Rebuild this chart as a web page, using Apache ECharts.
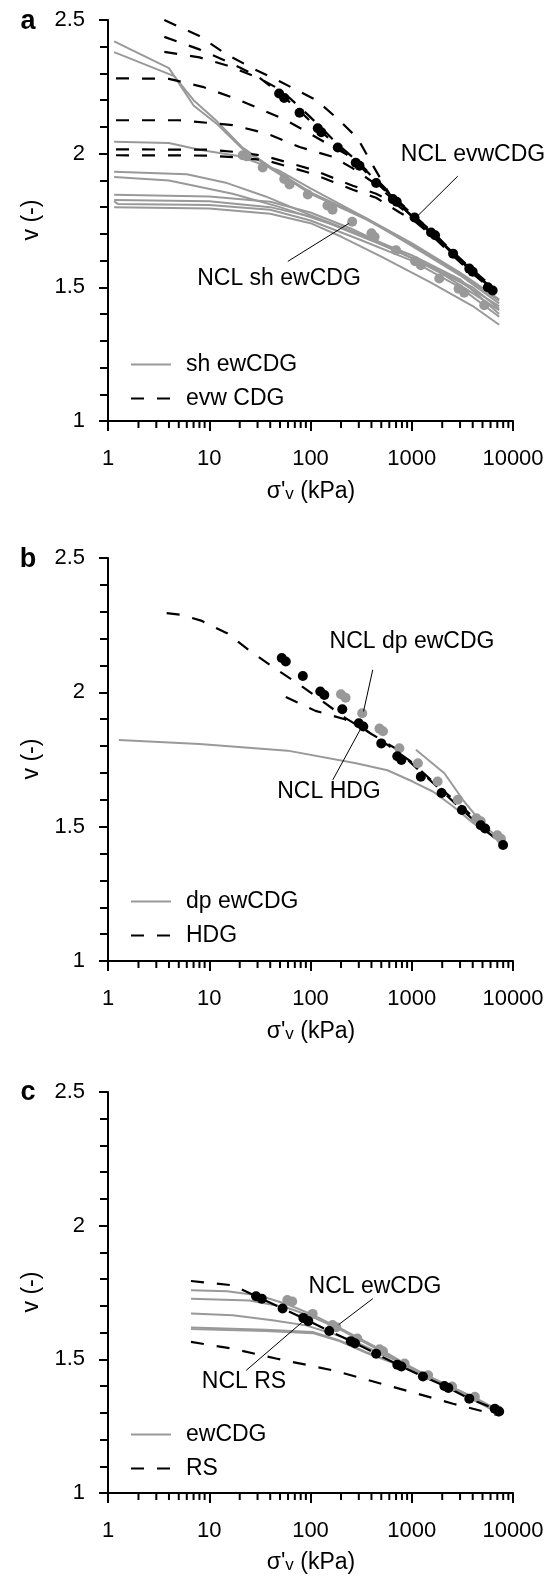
<!DOCTYPE html>
<html><head><meta charset="utf-8">
<script src="https://cdn.jsdelivr.net/npm/echarts@6/dist/echarts.min.js"></script>
<style>html,body{margin:0;padding:0;background:#fff}#c{width:555px;height:1578px}</style>
</head><body><div id="c"></div><script>
// ---------- data (sigma'v in kPa, v) ----------
const xMinorTicks = [2,3,4,5,6,7,8,9,20,30,40,50,60,70,80,90,200,300,400,500,600,700,800,900,2000,3000,4000,5000,6000,7000,8000,9000];

// panel a: sh ewCDG (grey solid) and evw CDG (black dashed)
const aShLines = [
 [[1.15,2.42],[4,2.32],[7,2.18],[12,2.11],[21,2.02],[42,1.94],[100,1.85],[350,1.755],[1000,1.66],[3000,1.55],[7300,1.45]],
 [[1.15,2.38],[4.5,2.29],[7,2.2],[12,2.12],[21,2.025],[42,1.945],[100,1.855],[350,1.76],[1000,1.665],[3000,1.555],[7300,1.455]],
 [[1.15,2.045],[4,2.04],[8,2.015],[20,1.99],[50,1.935],[100,1.87],[350,1.76],[1000,1.655],[3000,1.545],[7300,1.44]],
 [[1.15,1.932],[6,1.923],[15,1.89],[36,1.84],[100,1.77],[300,1.70],[1000,1.61],[3000,1.52],[7300,1.43]],
 [[1.15,1.913],[4,1.90],[17,1.85],[50,1.80],[150,1.74],[500,1.66],[1500,1.58],[4000,1.50],[7300,1.42]],
 [[1.15,1.846],[10,1.84],[40,1.82],[100,1.78],[250,1.72],[700,1.64],[2000,1.55],[7300,1.415]],
 [[1.15,1.827],[10,1.822],[40,1.80],[100,1.765],[300,1.70],[1000,1.62],[3000,1.53],[7300,1.40]],
 [[1.15,1.822],[1.25,1.812],[10,1.808],[40,1.79],[100,1.75],[300,1.68],[1000,1.60],[3000,1.50],[7300,1.39]],
 [[1.15,1.80],[10,1.795],[40,1.775],[100,1.74],[200,1.69],[500,1.615],[1500,1.52],[4000,1.43],[7300,1.36]]
];
const aEvwLines = [
 [[3.6,2.5],[8,2.44],[15,2.37],[30,2.31],[50,2.27],[114,2.2],[186,2.13],[293,2.057],[400,1.965],[600,1.85],[1000,1.765],[1700,1.69],[2560,1.63],[4000,1.56],[6500,1.49]],
 [[3.6,2.437],[8,2.39],[15,2.345],[30,2.29],[50,2.225],[78,2.16],[122,2.09],[186,2.025],[293,1.962],[445,1.892],[680,1.828],[1065,1.762],[1620,1.70],[2560,1.628],[3860,1.566],[6500,1.492]],
 [[3.6,2.381],[8,2.36],[15,2.33],[30,2.285],[50,2.24],[78,2.175],[122,2.105],[186,2.035],[293,1.97],[445,1.898],[680,1.832],[1065,1.766],[1620,1.705],[2560,1.632],[3860,1.57],[6500,1.497]],
 [[1.2,2.282],[4,2.28],[8.6,2.25],[17,2.21],[31,2.169],[57.5,2.125],[105,2.069],[166,2.025],[262,1.985],[445,1.905],[680,1.835],[1065,1.768],[1620,1.703],[2560,1.63],[3860,1.567],[6500,1.494]],
 [[1.2,2.125],[5,2.125],[17,2.107],[36.5,2.076],[78,2.025],[166,1.988],[262,1.945],[445,1.885],[680,1.822],[1065,1.76],[1620,1.698],[2560,1.624],[3860,1.562],[6500,1.488]],
 [[1.2,2.016],[10,2.015],[20,2.005],[36.5,1.99],[62,1.965],[105,1.94],[262,1.88],[445,1.85],[680,1.815],[1065,1.757],[1620,1.695],[2560,1.622],[3860,1.56],[6500,1.486]],
 [[1.2,1.994],[10,1.993],[20,1.985],[36.5,1.975],[62,1.95],[105,1.925],[262,1.865],[445,1.835],[760,1.78],[1065,1.748],[1620,1.69],[2560,1.618],[3860,1.556],[6500,1.484]]
];
const aShNCL = [[21.4,1.994],[23.5,1.99],[33.7,1.948],[55,1.905],[62,1.885],[94,1.847],[147,1.806],[165,1.79],[258,1.745],[400,1.702],[430,1.688],[700,1.639],[1080,1.598],[1230,1.583],[1870,1.533],[2900,1.495],[3300,1.48],[5200,1.433]];
const aEvwNCL = [[49,2.225],[55,2.208],[78,2.153],[118,2.095],[128,2.08],[186,2.023],[280,1.966],[305,1.955],[445,1.89],[650,1.83],[710,1.82],[1065,1.761],[1550,1.705],[1700,1.695],[2560,1.626],[3700,1.57],[4000,1.558],[5650,1.50],[6300,1.488]];

// panel b: dp ewCDG (grey solid) and HDG (black dashed)
const bDpLines = [
 [[1.28,1.823],[8,1.808],[59.5,1.783],[282,1.736],[575,1.71],[1020,1.668],[1630,1.63],[2570,1.575],[4000,1.515],[7200,1.45]],
 [[1100,1.786],[2100,1.699],[3200,1.60],[5000,1.51],[7500,1.45]]
];
const bHdgLines = [
 [[3.8,2.295],[5.2,2.289],[8.3,2.267],[15,2.22],[25,2.155],[43,2.093],[77,2.03],[128,1.97],[220,1.905],[400,1.845],[700,1.79],[1100,1.72],[1770,1.65],[3000,1.57],[5000,1.495],[7900,1.435]],
 [[57,1.983],[112,1.931],[218,1.90],[350,1.86],[600,1.80],[1000,1.74],[1700,1.66],[3000,1.58],[5000,1.505],[7900,1.44]]
];
const bDpNCL = [[200,1.993],[222,1.98],[324,1.922],[480,1.865],[520,1.855],[755,1.792],[1150,1.736],[1800,1.668],[2850,1.60],[4350,1.531],[4800,1.52],[7000,1.468],[7600,1.455]];
const bHdgNCL = [[52,2.128],[57,2.115],[84,2.061],[125,2.003],[137,1.99],[206,1.937],[300,1.885],[332,1.873],[500,1.81],[720,1.762],[790,1.748],[1230,1.686],[1970,1.625],[3130,1.562],[4800,1.505],[5300,1.493],[7980,1.432]];

// panel c: ewCDG (grey solid) and RS (black dashed)
const cEwLines = [
 [[6.6,1.758],[15,1.755],[31,1.739],[57,1.708],[100,1.67],[200,1.615],[500,1.535],[1000,1.47],[2000,1.41],[4000,1.36],[7200,1.31]],
 [[6.6,1.727],[25,1.72],[57,1.695],[100,1.662],[200,1.61],[500,1.53],[1000,1.465],[2000,1.405],[4000,1.355],[7200,1.305]],
 [[6.6,1.671],[17,1.665],[42,1.646],[90,1.627],[166,1.596],[300,1.56],[700,1.495],[1500,1.435],[3500,1.37],[7200,1.30]],
 [[6.6,1.619],[36,1.611],[105,1.602],[193,1.571],[355,1.527],[700,1.485],[1500,1.43],[3500,1.365],[7200,1.30]],
 [[6.6,1.613],[36,1.606],[105,1.598],[193,1.568],[355,1.524],[700,1.482],[1500,1.428],[3500,1.363],[7200,1.298]]
];
const cRsLines = [
 [[6.6,1.793],[17,1.777],[31,1.731],[53,1.69],[90,1.649],[153,1.606],[262,1.565],[445,1.521],[755,1.477],[1290,1.436],[2200,1.397],[3700,1.353],[7200,1.31]],
 [[6.6,1.565],[17,1.54],[45.6,1.503],[166,1.459],[650,1.397],[2560,1.334],[7300,1.29]]
];
const cEwNCL = [[59,1.722],[66,1.716],[105,1.67],[165,1.628],[180,1.62],[290,1.578],[480,1.538],[520,1.53],[850,1.484],[1450,1.44],[2500,1.398],[4200,1.36],[7000,1.31]];
const cRsNCL = [[29,1.736],[33,1.727],[53,1.69],[85,1.655],[95,1.643],[153,1.606],[250,1.568],[275,1.56],[445,1.521],[720,1.48],[790,1.473],[1290,1.436],[2100,1.40],[2300,1.393],[3700,1.353],[6600,1.315],[7300,1.305]];

// annotation pointers (data coords): [from, to]
const aPointers = [[[2850,1.916],[1148,1.768]], [[59.7,1.597],[239,1.739]]];
const bPointers = [[[412,2.084],[334,1.929]], [[166,1.674],[316,1.867]]];
const cPointers = [[[412,1.727],[190,1.63]], [[23.2,1.459],[90.7,1.652]]];

const legendNames = [['sh ewCDG','evw CDG'],['dp ewCDG','HDG'],['ewCDG','RS']];

// ---------- chart ----------
const FONT = 'Liberation Sans, Arial, Helvetica, sans-serif';
const GRAY = '#999999';
const grids = [
  {left:108, top:20, width:405, height:401},
  {left:108, top:558, width:405, height:403},
  {left:108, top:1092, width:405, height:401}
];
const panels = [
  {solid:aShLines, dashed:aEvwLines, grayNCL:aShNCL, blackNCL:aEvwNCL, ptr:aPointers},
  {solid:bDpLines, dashed:bHdgLines, grayNCL:bDpNCL, blackNCL:bHdgNCL, ptr:bPointers},
  {solid:cEwLines, dashed:cRsLines, grayNCL:cEwNCL, blackNCL:cRsNCL, ptr:cPointers}
];

const xAxes = [], yAxes = [], series = [], legends = [];
const legendTops = [348, 885, 1418];
panels.forEach((p, i) => {
  xAxes.push({type:'log', logBase:10, min:1, max:10000, gridIndex:i,
    axisLine:{onZero:false, lineStyle:{color:'#000', width:2}},
    axisTick:{length:10, lineStyle:{color:'#000', width:2}},
    axisLabel:{fontSize:22, color:'#000', margin:27, fontFamily:FONT,
      formatter:(v) => String(Math.round(v))},
    splitLine:{show:false}});
  yAxes.push({type:'value', min:1, max:2.5, interval:0.5, gridIndex:i,
    axisLine:{show:true, lineStyle:{color:'#000', width:2}},
    axisTick:{show:true, length:9, lineStyle:{color:'#000', width:2}},
    minorTick:{show:true, splitNumber:5, length:8, lineStyle:{color:'#000', width:2}},
    axisLabel:{fontSize:22, color:'#000', margin:23, fontFamily:FONT},
    splitLine:{show:false}});
  p.solid.forEach(d => series.push({type:'line', name:legendNames[i][0], xAxisIndex:i, yAxisIndex:i, data:d,
    symbol:'none', silent:true, z:2, color:GRAY, lineStyle:{color:GRAY, width:2}}));
  p.dashed.forEach(d => series.push({type:'line', name:legendNames[i][1], xAxisIndex:i, yAxisIndex:i, data:d,
    symbol:'none', silent:true, z:3, color:'#000', lineStyle:{color:'#000', width:2.2, type:[13,13]}}));
  series.push({type:'scatter', name:'ncl-g'+i, xAxisIndex:i, yAxisIndex:i, data:p.grayNCL, symbolSize:10, silent:true, z:4,
    itemStyle:{color:GRAY, opacity:1}});
  series.push({type:'scatter', name:'ncl-b'+i, xAxisIndex:i, yAxisIndex:i, data:p.blackNCL, symbolSize:10, silent:true, z:5,
    itemStyle:{color:'#000', opacity:1},
    markLine:{silent:true, symbol:'none', animation:false, label:{show:false}, lineStyle:{color:'#000', width:1, type:'solid'},
      data:p.ptr.map(pp => [{coord:pp[0]},{coord:pp[1]}])}});
  series.push({type:'custom', xAxisIndex:i, yAxisIndex:i, silent:true, z:10, clip:false,
    data:xMinorTicks.map(x => [x, 1]),
    renderItem:(params, api) => {
      const pt = api.coord([api.value(0), api.value(1)]);
      return {type:'line', shape:{x1:pt[0], y1:pt[1], x2:pt[0], y2:pt[1]+7}, style:{stroke:'#000', lineWidth:2}};
    }});
  legends.push({data:legendNames[i], orient:'vertical', left:125, top:legendTops[i], itemWidth:40, itemHeight:14, itemGap:11,
    selectedMode:false, itemStyle:{opacity:0}, textStyle:{fontSize:23, color:'#000', fontFamily:FONT, padding:[0,0,0,10]}});
});

function txt(x, y, text, extra) {
  return Object.assign({type:'text', x:x, y:y, silent:true,
    style:Object.assign({text:text, fontSize:23, fontFamily:FONT, fill:'#000', align:'center', verticalAlign:'middle'}, extra && extra.style)},
    extra && extra.props);
}
const xTitleRich = {a:{fontSize:23, fontFamily:FONT, lineHeight:30, verticalAlign:'bottom'},
                    s:{fontSize:17, fontFamily:FONT, lineHeight:16, verticalAlign:'bottom'}};
const graphics = [];
[['a',22,220,488],['b',560,759,1028],['c',1093,1292,1559]].forEach(([l, ly, yt, xt]) => {
  graphics.push(txt(28, ly, l, {style:{fontSize:27, fontWeight:'bold'}}));
  graphics.push(txt(32, yt, 'v (-)', {props:{rotation:Math.PI/2}}));
  graphics.push({type:'text', x:311, y:xt, silent:true, style:{text:"{a|σ'}{s|v}{a| (kPa)}", rich:xTitleRich, align:'center', verticalAlign:'middle', fill:'#000'}});
});
graphics.push(txt(473, 155, 'NCL evwCDG'));
graphics.push(txt(279, 279, 'NCL sh ewCDG'));
graphics.push(txt(412, 642, 'NCL dp ewCDG'));
graphics.push(txt(329, 792, 'NCL HDG'));
graphics.push(txt(375, 1287, 'NCL ewCDG'));
graphics.push(txt(244, 1382, 'NCL RS'));

const chart = echarts.init(document.getElementById('c'), null, {renderer:'canvas'});
chart.setOption({
  animation:false,
  backgroundColor:'#fff',
  textStyle:{fontFamily:FONT},
  grid:grids, xAxis:xAxes, yAxis:yAxes, legend:legends, series:series, graphic:graphics
});
</script></body></html>
